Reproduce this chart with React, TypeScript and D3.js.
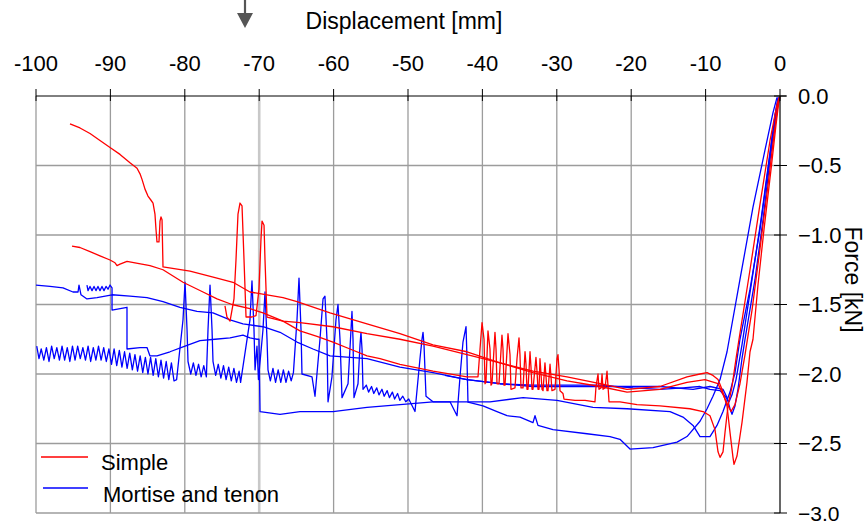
import React from "react";
import * as d3 from "d3";

type P = [number, number];

const xTicks = [-100, -90, -80, -70, -60, -50, -40, -30, -20, -10, 0];
const yTicks = [0, -0.5, -1.0, -1.5, -2.0, -2.5, -3.0];
const xTitle = "Displacement [mm]";
const yTitle = "Force [kN]";
const seriesNames = ["Simple", "Mortise and tenon"];

// Simple (red)
const simple1: P[] = [
  [-95.43,-0.20],[-94.09,-0.23],[-92.74,-0.27],[-91.40,-0.32],[-90.05,-0.37],[-88.71,-0.42],[-87.37,-0.48],[-86.42,-0.52],[-86.02,-0.56],[-85.75,-0.60],[-85.35,-0.67],[-84.95,-0.72],[-84.54,-0.75],[-84.27,-0.77],[-84.01,-0.85],[-83.87,-0.96],[-83.74,-1.05],[-83.47,-1.05],[-83.33,-0.90],[-83.20,-0.87],[-83.06,-0.89],[-82.93,-1.23],
  [-79.30,-1.26],[-75.67,-1.31],[-73.52,-1.34],[-71.24,-1.41],[-68.95,-1.43],[-66.80,-1.45],[-64.92,-1.48],[-60.48,-1.56],[-55.51,-1.64],[-51.08,-1.71],[-46.64,-1.79],[-42.07,-1.84],[-37.63,-1.92],[-33.20,-1.98],[-28.63,-2.02],[-24.19,-2.07],[-20.56,-2.11],[-16.13,-2.09],[-12.50,-2.02],[-10.75,-2.00],[-9.81,-1.99],[-9.01,-2.01],[-8.33,-2.04],[-7.80,-2.11],[-7.12,-2.23],[-6.72,-2.42],[-6.32,-2.60],[-6.18,-2.65],[-5.78,-2.59],[-5.11,-2.35],[-4.44,-2.06],[-4.03,-1.84],[-3.63,-1.75],[-2.96,-1.36],[-2.15,-0.96],[-1.21,-0.53],[-0.54,-0.21],[-0.13,-0.03]
];
const simple2: P[] = [
  [-95.16,-1.08],[-94.09,-1.09],[-92.74,-1.12],[-91.40,-1.15],[-90.05,-1.18],[-89.38,-1.20],[-89.11,-1.22],[-88.71,-1.21],[-87.77,-1.19],[-86.69,-1.20],[-84.68,-1.22],[-82.93,-1.25],[-80.24,-1.34],[-77.55,-1.41],[-75.67,-1.46],[-73.66,-1.50],[-71.24,-1.53],[-69.49,-1.56],[-66.80,-1.62],[-64.52,-1.69],[-62.23,-1.73],[-60.08,-1.77],[-57.80,-1.82],[-55.51,-1.87],[-53.76,-1.89],[-51.08,-1.93],[-46.64,-1.98],[-42.07,-2.02],
  [-40.59,-2.02],[-40.32,-1.82],[-40.05,-1.63],[-39.78,-1.75],[-39.65,-2.07],
  [-39.52,-2.06],[-39.25,-1.69],[-38.98,-1.82],[-38.84,-2.08],
  [-38.71,-2.07],[-38.31,-1.70],[-38.17,-1.82],[-38.04,-2.07],
  [-37.77,-2.07],[-37.37,-1.72],[-37.23,-1.82],[-37.10,-2.08],
  [-36.96,-2.08],[-36.56,-1.71],[-36.29,-1.86],[-36.16,-2.11],
  [-35.62,-2.10],[-35.35,-1.89],[-35.08,-1.74],[-34.95,-1.86],[-34.81,-2.10],
  [-34.54,-2.10],[-34.27,-1.84],[-34.14,-1.93],[-34.01,-2.11],
  [-33.87,-2.11],[-33.60,-1.84],[-33.47,-1.95],[-33.33,-2.11],
  [-33.20,-2.11],[-32.80,-1.88],[-32.66,-1.98],[-32.53,-2.11],
  [-32.39,-2.11],[-32.26,-1.89],[-32.12,-2.00],[-31.99,-2.11],
  [-31.85,-2.12],[-31.59,-1.92],[-31.45,-2.02],[-31.32,-2.12],
  [-31.18,-2.12],[-30.91,-1.93],[-30.78,-2.02],[-30.65,-2.12],
  [-30.24,-2.11],[-29.97,-1.89],[-29.84,-1.86],[-29.70,-1.97],[-29.57,-2.12],
  [-29.17,-2.14],[-29.03,-2.18],[-27.55,-2.19],[-26.21,-2.19],[-24.87,-2.20],
  [-24.73,-2.09],[-24.46,-2.00],[-24.33,-2.11],[-24.06,-2.10],[-23.92,-2.00],[-23.79,-2.11],[-23.52,-2.10],[-23.25,-1.98],[-22.98,-2.20],
  [-21.51,-2.20],[-19.22,-2.22],[-16.13,-2.23],[-12.10,-2.25],[-10.35,-2.27],[-9.41,-2.30],[-8.74,-2.40],[-8.33,-2.56],[-8.06,-2.60],
  [-7.66,-2.56],[-7.39,-2.42],[-6.99,-2.23],[-6.45,-2.09],[-5.91,-1.89],[-5.51,-1.75],[-4.03,-1.25],[-2.69,-0.78],[-1.34,-0.32],[-0.40,-0.06],[-0.13,-0.01]
];
const simple3: P[] = [
  [-74.60,-1.51],[-74.33,-1.59],[-73.92,-1.62],[-73.39,-1.46],[-73.12,-1.18],[-72.85,-0.85],[-72.58,-0.77],[-72.31,-0.79],[-72.04,-1.18],[-71.77,-1.59],[-70.97,-1.59],[-70.43,-1.58],[-70.03,-1.39],[-69.76,-1.03],[-69.62,-0.90],[-69.35,-0.93],[-69.22,-1.18],[-68.95,-1.59],
  [-66.80,-1.62],[-64.52,-1.63],[-60.08,-1.66],[-55.51,-1.71],[-51.08,-1.75],[-46.64,-1.80],[-42.07,-1.86],[-37.63,-1.92],[-33.20,-1.99],[-28.63,-2.05],[-24.19,-2.09],[-20.56,-2.13],[-16.13,-2.11],[-12.50,-2.06],[-10.08,-2.04],[-8.33,-2.07],[-7.39,-2.18],[-6.59,-2.27],[-6.05,-2.22],[-5.38,-2.07],[-4.70,-1.86],[-3.76,-1.54],[-2.69,-1.10],[-1.61,-0.64],[-0.81,-0.28],[-0.27,-0.06],[0,-0.01]
];

// Mortise and tenon (blue)
const mortise1: P[] = [
  [-100,-1.36],[-98.12,-1.37],[-96.37,-1.38],[-95.03,-1.41],[-94.35,-1.41],[-94.22,-1.36],[-93.95,-1.43],[-93.15,-1.46],[-91.80,-1.45],[-89.78,-1.43],[-87.37,-1.44],[-85.08,-1.45],[-82.93,-1.48],[-80.65,-1.52],[-78.36,-1.55],[-76.21,-1.56],[-73.92,-1.61],[-72.18,-1.64],[-69.49,-1.66],[-67.20,-1.70],[-64.92,-1.77],[-62.77,-1.82],[-60.48,-1.87],[-55.51,-1.89],[-51.08,-1.95],[-46.64,-1.99],[-42.07,-2.04],[-37.63,-2.07],[-33.20,-2.09],[-28.63,-2.09],[-24.19,-2.09],[-20.56,-2.09],[-16.13,-2.09],[-11.69,-2.11],[-9.41,-2.09],[-7.66,-2.11],[-7.12,-2.17],[-6.72,-2.25],[-6.45,-2.29],[-6.05,-2.23],[-5.65,-2.11],[-5.11,-1.89],[-4.70,-1.75],[-3.36,-1.32],[-2.28,-0.89],[-1.34,-0.46],[-0.54,-0.14],[-0.13,-0.01]
];
const mortise2: P[] = [
  [-99.9,-1.80],[-99.6,-1.89],[-99.3,-1.82],[-98.95,-1.90],[-98.6,-1.81],[-98.25,-1.91],[-97.9,-1.80],[-97.55,-1.89],[-97.2,-1.81],[-96.85,-1.90],[-96.5,-1.80],[-96.15,-1.90],[-95.8,-1.81],[-95.45,-1.91],[-95.1,-1.80],[-94.75,-1.90],[-94.4,-1.80],[-94.05,-1.89],[-93.7,-1.81],[-93.35,-1.90],[-93.0,-1.80],[-92.65,-1.91],[-92.3,-1.81],[-91.95,-1.90],[-91.6,-1.80],[-91.25,-1.90],[-90.9,-1.81],[-90.55,-1.91],[-90.2,-1.82],[-89.85,-1.93],[-89.5,-1.82],[-89.15,-1.94],[-88.8,-1.83],[-88.45,-1.95],[-88.1,-1.84],[-87.75,-1.96],[-87.4,-1.85],[-87.05,-1.97],[-86.7,-1.86],[-86.35,-1.98],[-86.0,-1.87],[-85.65,-1.99],[-85.3,-1.88],[-84.95,-2.00],[-84.6,-1.88],[-84.25,-2.01],[-83.9,-1.89],[-83.55,-2.02],[-83.2,-1.90],[-82.85,-2.03],[-82.5,-1.91],[-82.15,-2.04],[-81.8,-1.92],[-81.45,-2.05],[-81.1,-2.04],
  [-80.24,-1.61],[-79.97,-1.34],[-79.70,-1.68],[-79.57,-1.91],
  [-79.2,-2.00],[-78.85,-1.92],[-78.5,-2.01],[-78.15,-1.93],[-77.8,-2.02],[-77.45,-1.94],[-77.1,-2.02],
  [-76.88,-1.68],[-76.61,-1.36],[-76.34,-1.68],[-76.21,-1.91],
  [-75.85,-2.01],[-75.5,-1.93],[-75.15,-2.03],[-74.8,-1.94],[-74.45,-2.04],[-74.1,-1.95],[-73.75,-2.05],[-73.4,-1.96],[-73.05,-2.06],[-72.7,-1.98],[-72.5,-2.06],
  [-71.24,-1.61],[-70.97,-1.33],[-70.70,-1.68],[-70.56,-1.97],[-70.3,-1.80],[-70.1,-2.04],
  [-69.49,-1.68],[-69.22,-1.41],[-68.95,-1.75],[-68.82,-1.97],
  [-68.5,-2.05],[-68.15,-1.96],[-67.8,-2.06],[-67.45,-1.97],[-67.1,-2.06],[-66.75,-1.97],[-66.4,-2.06],[-66.05,-1.98],[-65.7,-2.05],[-65.4,-1.99],
  [-64.92,-1.61],[-64.65,-1.31],[-64.38,-1.68],[-64.25,-2.00],
  [-62.90,-2.02],[-62.50,-2.16],
  [-61.83,-1.75],[-61.42,-1.46],[-61.16,-1.44],[-60.89,-1.75],[-60.75,-2.20],
  [-60.22,-2.02],
  [-59.68,-1.61],[-59.41,-1.50],[-59.14,-1.75],[-58.87,-2.17],
  [-58.06,-2.07],
  [-57.66,-1.68],[-57.53,-1.55],[-57.39,-1.75],[-57.26,-2.17],
  [-56.72,-2.07],
  [-56.45,-1.79],[-56.32,-1.70],[-56.18,-1.82],[-56.05,-2.11],
  [-55.6,-2.08],[-55.3,-2.13],[-54.9,-2.09],[-54.6,-2.14],[-54.2,-2.10],[-53.9,-2.15],[-53.5,-2.11],[-53.2,-2.16],[-52.8,-2.12],[-52.5,-2.17],[-52.1,-2.13],[-51.8,-2.18],[-51.4,-2.14],[-51.1,-2.19],[-50.7,-2.16],[-50.3,-2.20],[-49.9,-2.18],
  [-49.06,-2.27],
  [-48.39,-1.89],[-48.12,-1.75],[-47.98,-1.70],[-47.85,-1.79],[-47.58,-2.16],
  [-46.64,-2.20],[-44.35,-2.20],[-43.41,-2.30],
  [-43.01,-2.02],[-42.61,-1.77],[-42.20,-1.66],[-42.07,-1.89],[-41.94,-2.20],
  [-38.98,-2.20],[-34.54,-2.17],[-29.97,-2.19],[-25.13,-2.24],[-20.56,-2.25],[-14.78,-2.27],[-13.04,-2.31],[-11.69,-2.37],[-10.75,-2.45],[-9.41,-2.45],[-8.47,-2.37],[-7.66,-2.27],[-6.72,-2.13],[-6.05,-1.99],[-5.38,-1.75],[-4.03,-1.39],[-2.69,-0.96],[-1.61,-0.53],[-0.67,-0.14],[-0.27,-0.01]
];
const mortise3: P[] = [
  [-93.15,-1.36],[-93.01,-1.40],[-92.74,-1.37],[-92.47,-1.40],[-92.20,-1.37],[-91.94,-1.40],[-91.67,-1.37],[-91.40,-1.40],[-91.13,-1.37],[-90.86,-1.40],[-90.59,-1.37],[-90.32,-1.39],[-90.05,-1.36],[-89.78,-1.38],[-89.78,-1.54],[-87.77,-1.52],[-87.77,-1.82],[-86.02,-1.81],[-85.08,-1.81],[-84.68,-1.87],[-83.74,-1.87],[-81.99,-1.84],[-79.97,-1.80],[-77.96,-1.76],[-75.94,-1.75],[-73.92,-1.74],[-72.18,-1.72],[-71.24,-1.74],[-70.30,-1.75],[-70.03,-1.75],
  [-69.89,-2.27],[-67.20,-2.29],[-64.52,-2.27],[-60.08,-2.27],[-55.51,-2.24],[-51.08,-2.22],[-46.64,-2.20],[-42.07,-2.20],[-39.92,-2.23],[-38.04,-2.27],[-36.69,-2.30],[-34.95,-2.31],[-33.20,-2.35],[-32.93,-2.30],[-32.53,-2.37],[-30.51,-2.40],[-25.94,-2.43],[-22.85,-2.45],[-21.51,-2.47],[-20.16,-2.54],[-17.07,-2.53],[-13.84,-2.49],[-12.50,-2.45],[-10.75,-2.34],[-9.81,-2.25],[-9.01,-2.16],[-8.06,-2.04],[-7.12,-1.84],[-5.38,-1.32],[-3.63,-0.80],[-2.02,-0.39],[-0.94,-0.12],[-0.40,-0.01]
];
const mortise4: P[] = [
  [-45.03,-2.01],[-42.07,-2.04],[-37.63,-2.07],[-33.20,-2.08],[-28.63,-2.08],[-24.19,-2.08],[-19.76,-2.10],[-16.13,-2.11],[-13.04,-2.10],[-10.75,-2.09],[-9.41,-2.11],[-8.06,-2.12],[-7.39,-2.16],[-6.85,-2.20],[-6.45,-2.15],[-5.91,-2.04],[-5.11,-1.79],[-3.76,-1.32],[-2.55,-0.89],[-1.48,-0.46],[-0.67,-0.14],[-0.13,-0.01]
];

const simpleSeries = [simple1, simple2, simple3];
const mortiseSeries = [mortise1, mortise2, mortise3, mortise4];

const W = 867;
const H = 523;
const FONT = "'Liberation Sans', Arial, Helvetica, sans-serif";

export default function App() {
  const x = d3.scaleLinear().domain([-100, 0]).range([36, 780]);
  const y = d3.scaleLinear().domain([0, -3]).range([96, 513]);
  const line = d3
    .line<P>()
    .x((d) => x(d[0]))
    .y((d) => y(d[1]));
  const fmtY = d3.format(".1f");

  return (
    <svg
      width={W}
      height={H}
      style={{ position: "absolute", left: 0, top: 0, background: "#fff" }}
      fontFamily={FONT}
    >
      {xTicks.slice(1, -1).map((t) => (
        <line
          key={"gx" + t}
          x1={x(t)}
          x2={x(t)}
          y1={y(0)}
          y2={y(-3)}
          stroke={t === -70 ? "#c8c8c8" : "#9c9c9c"}
          strokeWidth={t === -70 ? 2.6 : 1.3}
        />
      ))}
      {yTicks.slice(1, -1).map((t) => (
        <line
          key={"gy" + t}
          x1={x(-100)}
          x2={x(0)}
          y1={y(t)}
          y2={y(t)}
          stroke="#9c9c9c"
          strokeWidth={1.3}
        />
      ))}
      <line x1={x(-100)} x2={x(-100)} y1={y(0)} y2={y(-3)} stroke="#9c9c9c" strokeWidth={1.3} />
      <line x1={x(-100)} x2={x(0)} y1={y(-3)} y2={y(-3)} stroke="#9c9c9c" strokeWidth={1.3} />

      {mortiseSeries.map((s, i) => (
        <path key={"m" + i} d={line(s) || ""} fill="none" stroke="#0000ff" strokeWidth={1.3} strokeLinejoin="round" />
      ))}
      {simpleSeries.map((s, i) => (
        <path key={"s" + i} d={line(s) || ""} fill="none" stroke="#ff0000" strokeWidth={1.3} strokeLinejoin="round" />
      ))}

      <line x1={x(-100)} x2={x(0) + 6} y1={y(0)} y2={y(0)} stroke="#000" strokeWidth={1} />
      {xTicks.map((t) => (
        <g key={"xt" + t}>
          <line x1={x(t)} x2={x(t)} y1={y(0) - 7} y2={y(0) + 5} stroke="#000" strokeWidth={1} />
          <text x={x(t)} y={71} textAnchor="middle" fontSize={22} fill="#000">
            {t}
          </text>
        </g>
      ))}
      <text x={404} y={29} textAnchor="middle" fontSize={23} fill="#000">
        {xTitle}
      </text>

      <line x1={x(0)} x2={x(0)} y1={y(0)} y2={y(-3)} stroke="#000" strokeWidth={1.2} />
      {yTicks.map((t) => (
        <g key={"yt" + t}>
          <line x1={x(0) - 6} x2={x(0) + 7} y1={y(t)} y2={y(t)} stroke="#000" strokeWidth={1} />
          <text x={798} y={y(t) + 7.5} textAnchor="start" fontSize={t === -3 ? 21 : 22} fill="#000">
            {fmtY(t)}
          </text>
        </g>
      ))}
      <text
        transform={`translate(845, ${y(-1.32)}) rotate(90)`}
        textAnchor="middle"
        fontSize={23}
        fill="#000"
      >
        {yTitle}
      </text>

      <line x1={245} x2={245} y1={0} y2={15} stroke="#555" strokeWidth={2.2} />
      <path d="M237,13 L253,13 L245,28 Z" fill="#555" />

      <line x1={41} x2={88} y1={457} y2={457} stroke="#ff0000" strokeWidth={1.5} />
      <text x={101} y={470} fontSize={22} fill="#000">
        {seriesNames[0]}
      </text>
      <line x1={43} x2={88} y1={488} y2={488} stroke="#0000ff" strokeWidth={1.5} />
      <text x={103} y={502} fontSize={22} fill="#000">
        {seriesNames[1]}
      </text>
    </svg>
  );
}
